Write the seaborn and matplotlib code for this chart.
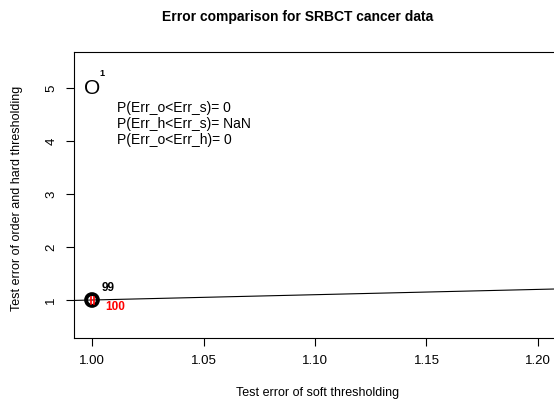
import matplotlib
matplotlib.use('Agg')
import matplotlib.pyplot as plt
import seaborn as sns
import pandas as pd

# data
soft_err = [1.0]
order_err = [1.0]
hard_err = [1.0]
order_lab = ['99']
hard_lab = ['100']
legend_x, legend_y = 1.0, 5.0
prob_text = ['P(Err_o<Err_s)= 0', 'P(Err_h<Err_s)= NaN', 'P(Err_o<Err_h)= 0']
xticks = [1.00, 1.05, 1.10, 1.15, 1.20]
yticks = [1, 2, 3, 4, 5]

sns.set_style('white')
plt.rcParams['font.family'] = ['Liberation Sans', 'DejaVu Sans']
plt.rcParams['text.color'] = 'black'
plt.rcParams['xtick.color'] = 'black'
plt.rcParams['ytick.color'] = 'black'

W, H = 554, 407
top_px = 52
right_px = 560
fig = plt.figure(figsize=(W / 100, H / 100), dpi=100)
ax = fig.add_axes([74 / W, (H - 338) / H, (right_px - 74) / W, (338 - top_px) / H])

df = pd.DataFrame({'soft': soft_err, 'order': order_err, 'hard': hard_err})

# y = x reference line
ax.axline((1.0, 1.0), slope=1, color='black', lw=0.8)

sns.scatterplot(data=df, x='soft', y='order', ax=ax, marker='o', s=72,
                facecolor='none', edgecolor='black', linewidth=2.8, zorder=3)
sns.scatterplot(data=df, x='soft', y='hard', ax=ax, marker='$||$', s=28,
                color='red', edgecolor='red', linewidth=0.5, zorder=4)

for x, y, lab in zip(soft_err, order_err, order_lab):
    ax.annotate(lab, (x, y), xytext=(16, 12), textcoords='offset pixels',
                ha='center', va='center', fontsize=8.5, fontweight='bold', color='black')
for x, y, lab in zip(soft_err, hard_err, hard_lab):
    ax.annotate(lab, (x, y), xytext=(23, -7), textcoords='offset pixels',
                ha='center', va='center', fontsize=8.5, fontweight='bold', color='red')

# "O" with superscript index
ax.annotate('O', (legend_x, legend_y), xytext=(0, -1), textcoords='offset pixels',
            ha='center', va='center', fontsize=15)
ax.annotate('1', (legend_x, legend_y), xytext=(10, 14), textcoords='offset pixels',
            ha='center', va='center', fontsize=6.5, fontweight='bold')
for i, t in enumerate(prob_text):
    ax.annotate(t, (legend_x, legend_y), xytext=(25, -20 - 16 * i), textcoords='offset pixels',
                ha='left', va='center', fontsize=10)

ax.set_xlim(1.0 - 18 / 2230, 1.0 + (right_px - 92) / 2230)
ax.set_ylim(1 - 38 / 53, 5 + (88 - top_px) / 53)
ax.set_xticks(xticks)
ax.set_xticklabels(['%.2f' % v for v in xticks])
ax.set_yticks(yticks)
ax.set_yticklabels([str(v) for v in yticks], rotation=90, va='center')
ax.tick_params(axis='both', direction='out', length=6, width=0.8, labelsize=9.5,
               left=True, bottom=True, color='black', pad=6)

ax.spines['right'].set_visible(False)
for s in ['left', 'bottom', 'top']:
    ax.spines[s].set_color('black')
    ax.spines[s].set_linewidth(0.8)

ax.set_xlabel('')
ax.set_ylabel('')
fig.text(318 / W, 1 - 393 / H, 'Test error of soft thresholding', ha='center', va='center', fontsize=9)
fig.text(17 / W, 1 - 198 / H, 'Test error of order and hard thresholding', ha='center', va='center',
         rotation=90, fontsize=9)
fig.text(298 / W, 1 - 17 / H, 'Error comparison for SRBCT cancer data', ha='center', va='center',
         fontsize=10, fontweight='bold')

fig.savefig('out.png', dpi=100)
